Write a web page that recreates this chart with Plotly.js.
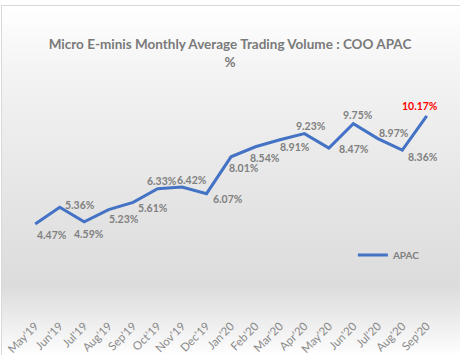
<!DOCTYPE html>
<html><head><meta charset="utf-8">
<script src="https://cdn.plot.ly/plotly-3.0.1.min.js"></script>
<style>
html,body{margin:0;padding:0;width:460px;height:355px;overflow:hidden;background:#fff;}
#frame{position:absolute;left:1px;top:5px;width:470px;height:360px;border-top:1px solid #d9d9d9;border-left:1px solid #d9d9d9;
background:linear-gradient(to bottom,#ffffff 0px,#f3f3f3 70px,#e4e4e4 200px,#dcdcdc 280px,#f4f4f4 330px,#ffffff 350px);}
#chart{position:absolute;left:0;top:0;width:460px;height:355px;}
</style></head>
<body>
<div id="frame"></div>
<div id="chart"></div>
<script>
const months = ["May'19","Jun'19","Jul'19","Aug'19","Sep'19","Oct'19","Nov'19","Dec'19","Jan'20","Feb'20","Mar'20","Apr'20","May'20","Jun'20","Jul'20","Aug'20","Sep'20"];
const apac = [4.47,5.36,4.59,5.23,5.61,6.33,6.42,6.07,8.01,8.54,8.91,9.23,8.47,9.75,8.97,8.36,10.17];
const seriesName = "APAC";

// label offsets from the point, in pixels (right, down)
const labelDx = [17, 20, 5, 15, 20, 4, 10, 21, 13, 10, 15, 7, 25, 5, 16, 21, -7];
const labelDy = [11, -2, 12, 9, 6, -8, -7, 5, 11, 11, 7, -8, 1, -9, -6, 7, -10];

const trace = {
  x: months, y: apac, name: seriesName, type: "scatter", mode: "lines",
  line: {color: "#4472c4", width: 3},
  hoverinfo: "skip"
};

const annotations = apac.map((v, i) => ({
  x: months[i], y: v, xref: "x", yref: "y",
  text: v.toFixed(2) + "%", showarrow: false,
  xanchor: "center", yanchor: "middle",
  xshift: labelDx[i], yshift: -labelDy[i],
  font: {family: "Lato", size: 10.5, weight: 700,
         color: i === apac.length - 1 ? "#ff0000" : "#808080"}
}));

const layout = {
  width: 460, height: 355,
  paper_bgcolor: "rgba(0,0,0,0)", plot_bgcolor: "rgba(0,0,0,0)",
  margin: {l: 23, r: 21, t: 81, b: 46},
  title: {text: "Micro E-minis Monthly Average Trading Volume : COO APAC<br>%", x: 0.5, xanchor: "center", y: 0.862, yanchor: "middle",
          font: {family: "Lato", size: 13.5, color: "#7a7a7a", weight: 700}},
  xaxis: {type: "category", range: [-0.5, 16.5], showgrid: false, zeroline: false, showline: false,
          tickangle: -45, tickfont: {family: "Lato", size: 11.5, color: "#8a8a8a"},
          ticks: "outside", ticklen: 5, tickcolor: "rgba(0,0,0,0)", fixedrange: true},
  yaxis: {range: [0, 12], visible: false, fixedrange: true},
  annotations: annotations,
  showlegend: true,
  legend: {x: 0.793, xanchor: "left", y: 0.237, yanchor: "middle", bgcolor: "rgba(0,0,0,0)",
           font: {family: "Lato", size: 10, color: "#7f7f7f", weight: 700}, itemwidth: 30}
};

Plotly.newPlot("chart", [trace], layout, {staticPlot: true, displayModeBar: false});
</script>
</body></html>
